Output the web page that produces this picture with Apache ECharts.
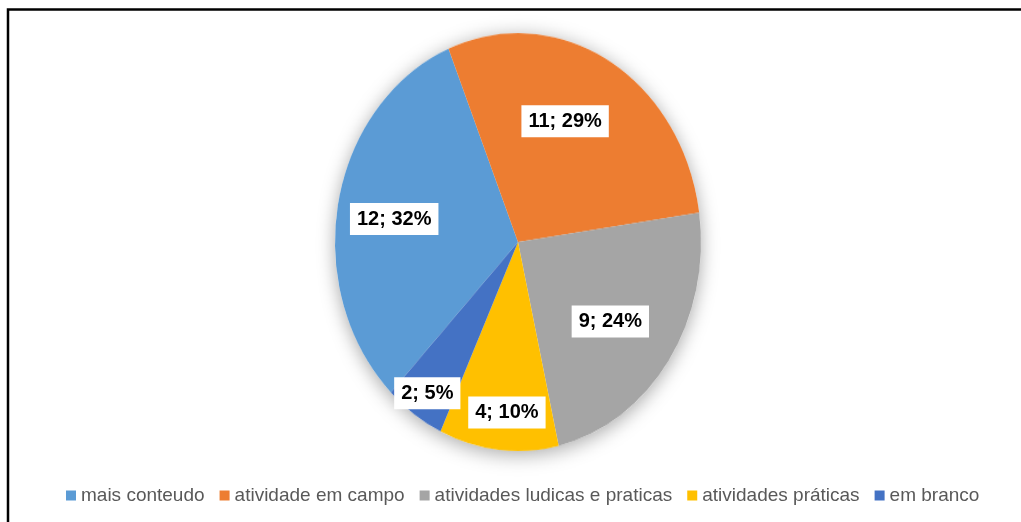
<!DOCTYPE html>
<html>
<head>
    <meta charset="utf-8">
    <title>pie</title>
    <style type="text/css">
        * {
            margin: 0;
            padding: 0;
        }

        body {
            background: #fff;
        }

        #wrap {
            position: relative;
            width: 1021px;
            height: 522px;
            overflow: hidden;
        }

        #pie, #overlay {
            position: absolute;
            left: 0;
            top: 0;
            width: 1021px;
            height: 522px;
        }

        /* the excel pie is an ellipse: stretch the drawn disc vertically */
        #pie {
            transform: scaleY(1.142);
            transform-origin: 518px 242px;
        }
    </style>
</head>
<body>

<div id="wrap">
    <div id="pie"></div>
    <div id="overlay"></div>
</div>

<script src="https://cdn.jsdelivr.net/npm/echarts@6/dist/echarts.min.js"></script>
<script type="text/javascript">

    var categories = ['mais conteudo', 'atividade em campo', 'atividades ludicas e praticas', 'atividades práticas', 'em branco'];
    var counts = [12, 11, 9, 4, 2];

    (function () {

        let colors = ['#5B9BD5', '#ED7D31', '#A5A5A5', '#FFC000', '#4472C4'];
        let pieCenter = [518, 242];     //  圆心
        let pieRadius = 183;
        let stretch = 1.142;            //  纵向拉伸
        let startAngle = 226;
        let total = counts.reduce(function (a, b) { return a + b; }, 0);

        //  标签微调 (excel 的 best fit 位置)
        let labelNudge = {0: [-3, 3], 1: [-14, 1], 2: [-9, 0], 3: [2, 27], 4: [-21, 31]};

        let pieData = categories.map(function (name, i) {
            return {name: name, value: counts[i], itemStyle: {color: colors[i]}};
        });

        // ---------- 底层: 被拉伸的饼 ----------
        let pieChart = echarts.init(document.getElementById('pie'));
        pieChart.setOption({
            animation: false,
            series: [
                {
                    name: 'shadow',
                    type: 'pie',
                    silent: true,
                    center: pieCenter,
                    radius: pieRadius,
                    label: {show: false},
                    labelLine: {show: false},
                    data: [{value: total, itemStyle: {
                        color: '#fff',
                        shadowBlur: 18,
                        shadowOffsetY: 3,
                        shadowColor: 'rgba(0,0,0,0.35)'
                    }}]
                },
                {
                    name: 'main',
                    type: 'pie',
                    silent: true,
                    center: pieCenter,
                    radius: pieRadius,
                    startAngle: startAngle,
                    label: {show: false},
                    labelLine: {show: false},
                    itemStyle: {borderWidth: 0},
                    data: pieData
                }
            ]
        });

        // ---------- 上层: 标签, 图例, 边框 ----------
        let overlay = echarts.init(document.getElementById('overlay'));
        overlay.setOption({
            animation: false,
            textStyle: {fontFamily: '"Liberation Sans", Arial, sans-serif'},
            graphic: [{
                type: 'rect',
                shape: {x: 8, y: 9.5, width: 1040, height: 540},
                style: {fill: 'none', stroke: '#000', lineWidth: 2.5},
                silent: true
            }],
            legend: {
                left: 61,
                top: 481,
                itemWidth: 10,
                itemHeight: 10,
                itemGap: 15,
                icon: 'rect',
                selectedMode: false,
                textStyle: {color: '#595959', fontSize: 19, fontFamily: '"Liberation Sans", Arial, sans-serif'},
                data: categories.map(function (name, i) {
                    return {name: name, itemStyle: {color: colors[i], opacity: 1}};
                })
            },
            series: [{
                name: 'labels',
                type: 'pie',
                silent: true,
                center: pieCenter,
                radius: [57, pieRadius],
                startAngle: startAngle,
                percentPrecision: 0,
                itemStyle: {color: 'rgba(0,0,0,0)'},
                labelLine: {show: false},
                label: {
                    show: true,
                    position: 'inside',
                    formatter: '{c}; {d}%',
                    color: '#000',
                    fontSize: 20,
                    fontWeight: 'bold',
                    lineHeight: 20,
                    backgroundColor: '#fff',
                    padding: [6, 7]
                },
                labelLayout: function (params) {
                    let cy = params.labelRect.y + params.labelRect.height / 2;
                    return {dy: (cy - pieCenter[1]) * (stretch - 1)};
                },
                data: categories.map(function (name, i) {
                    let item = {name: name, value: counts[i]};
                    if (labelNudge[i]) {
                        item.label = {offset: labelNudge[i]};
                    }
                    return item;
                })
            }]
        });
    })()
</script>
</body>
</html>
